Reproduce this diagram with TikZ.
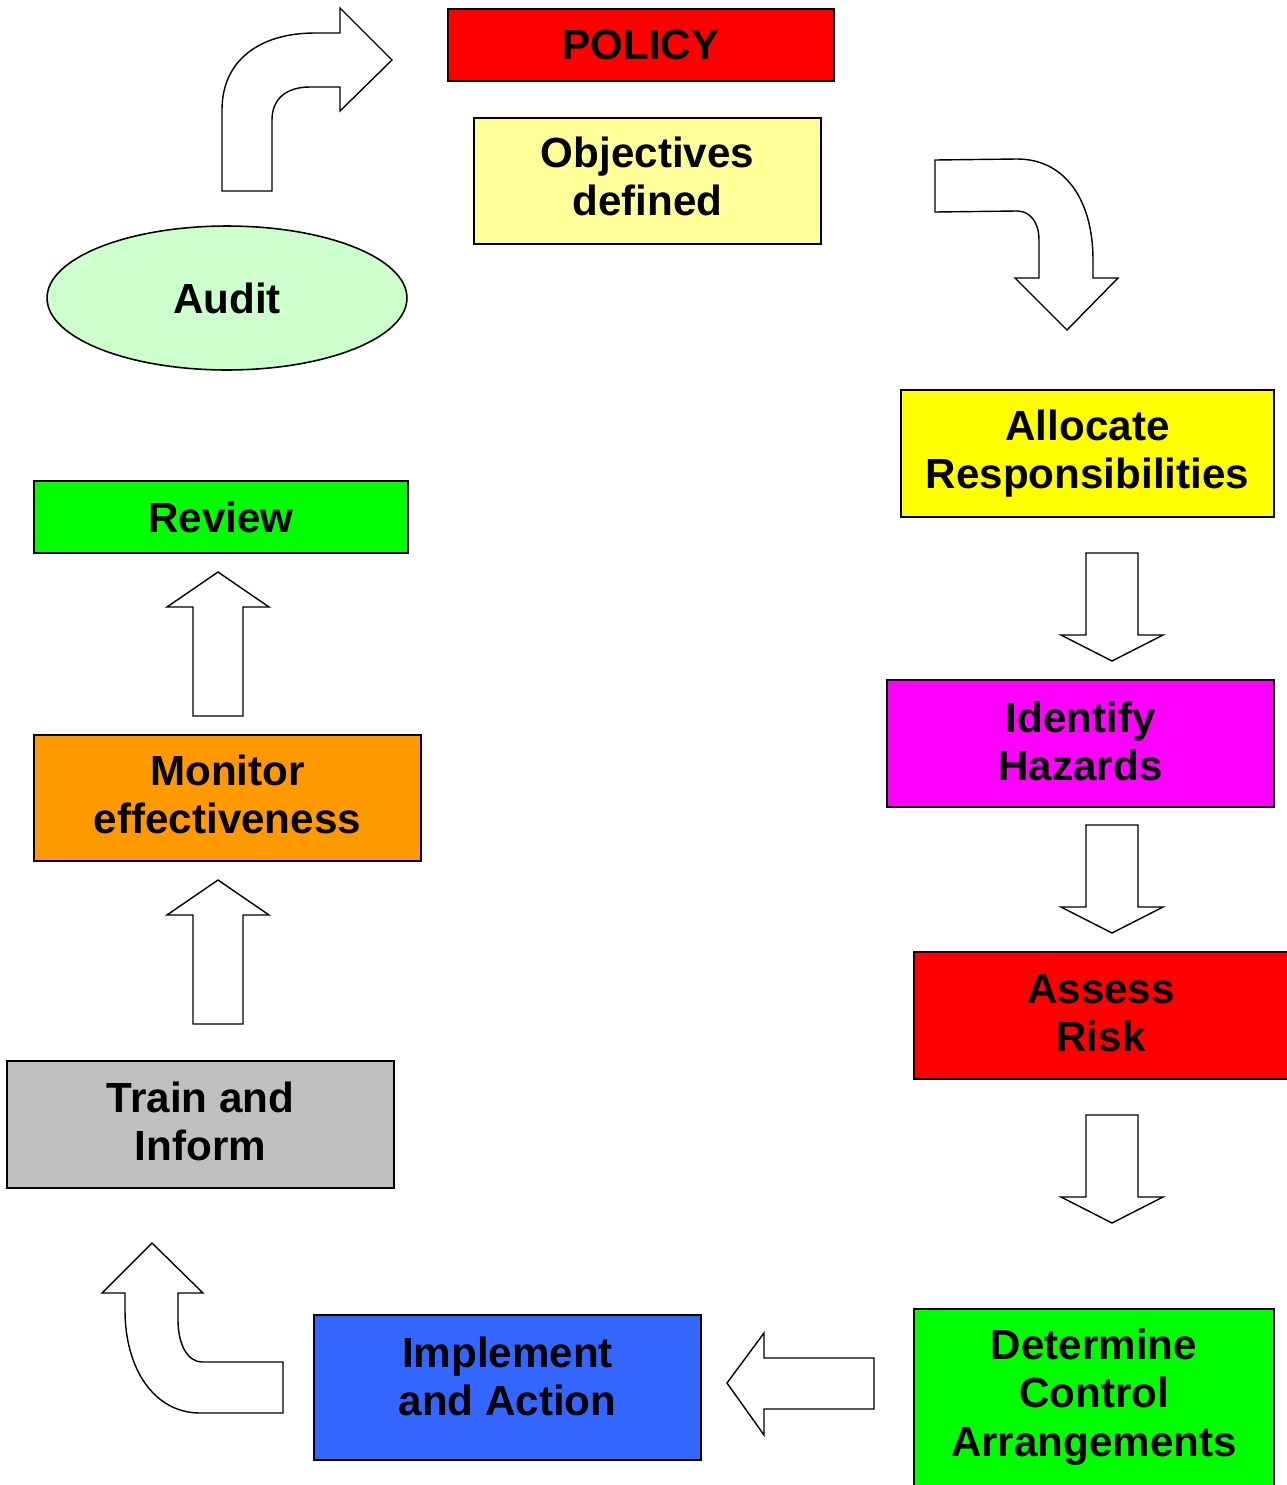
\documentclass[tikz,border=0pt]{standalone}
\usepackage{fontspec}
\setmainfont{Liberation Sans}
\usepackage{xcolor}
\usetikzlibrary{shapes,positioning,calc}
\tikzset{>=latex}

\definecolor{policyred}{HTML}{FF0000}
\definecolor{paleyellow}{HTML}{FFFF99}
\definecolor{mint}{HTML}{CCFFCC}
\definecolor{brightyellow}{HTML}{FFFF00}
\definecolor{brightgreen}{HTML}{00FF00}
\definecolor{brightmagenta}{HTML}{FF00FF}
\definecolor{brightorange}{HTML}{FF9900}
\definecolor{lightgrey}{HTML}{C0C0C0}
\definecolor{royal}{HTML}{3366FF}

\tikzset{
  box/.style={draw, line width=0.9pt, align=center, inner sep=2pt,
    font=\fontsize{24}{27.5}\selectfont\bfseries},
  blockarrow/.style={draw, line width=0.8pt, fill=white, line join=miter}
}

% straight block arrows: centre x, top (or tip) y
\newcommand{\blockdown}[2]{%
  \draw[blockarrow] (#1-26,#2) -- (#1+26,#2) -- (#1+26,#2+82) -- (#1+51,#2+82)
    -- (#1,#2+108) -- (#1-51,#2+82) -- (#1-26,#2+82) -- cycle;}
\newcommand{\blockup}[2]{%
  \draw[blockarrow] (#1,#2) -- (#1+51,#2+35) -- (#1+25,#2+35) -- (#1+25,#2+144)
    -- (#1-25,#2+144) -- (#1-25,#2+35) -- (#1-51,#2+35) -- cycle;}

\begin{document}
\begin{tikzpicture}[x=0.02cm, y=-0.02cm]
\useasboundingbox (0,0) rectangle (1286,1485);

% right hand column
\node[box, fill=policyred, minimum width=7.72cm, minimum height=1.44cm] (policy) at (641,45) {POLICY};
\node[box, fill=paleyellow, minimum width=6.94cm, minimum height=2.52cm, text depth=5.7pt] (objectives) at (647.5,181) {Objectives\\defined};
\node[box, fill=brightyellow, minimum width=7.46cm, minimum height=2.54cm] (allocate) at (1087.5,453.5) {Allocate\\Responsibilities};
\node[box, fill=brightmagenta, minimum width=7.74cm, minimum height=2.54cm, text depth=2.8pt] (identify) at (1080.5,743.5) {Identify\\Hazards};
\node[box, fill=policyred, minimum width=7.48cm, minimum height=2.54cm, text depth=2.8pt] (assess) at (1101,1015.5) {Assess\\Risk};
\node[box, fill=brightgreen, minimum width=7.2cm, minimum height=4cm, anchor=north] (determine) at (1094,1308) {};
\node[box, draw=none] (determinetext) at (1094,1397) {Determine\\Control\\Arrangements};

% left hand column
\node[box, fill=royal, minimum width=7.74cm, minimum height=2.9cm, text depth=13pt] (implement) at (507.5,1387.5) {Implement\\and Action};
\node[box, fill=lightgrey, minimum width=7.74cm, minimum height=2.54cm, text depth=4pt] (train) at (200.5,1124.5) {Train and\\Inform};
\node[box, fill=brightorange, minimum width=7.74cm, minimum height=2.52cm, text depth=4.5pt] (monitor) at (227.5,798) {Monitor\\effectiveness};
\node[box, fill=brightgreen, minimum width=7.48cm, minimum height=1.44cm] (review) at (221,517) {Review};
\node[box, ellipse, fill=mint, minimum width=7.2cm, minimum height=2.88cm] (audit) at (227,298) {Audit};

% curved block arrows
\draw[blockarrow] (935,160) -- (1017,159) .. controls (1065,159) and (1093,200) .. (1093,260)
  -- (1093,278) -- (1118,278) -- (1067,330) -- (1015,278) -- (1039,278) -- (1039,240)
  .. controls (1039,222) and (1030,211) .. (1017,211) -- (935,212) -- cycle;
\draw[blockarrow] (152,1243) -- (203,1293) -- (178,1293) -- (178,1320)
  .. controls (178,1345) and (188,1362) .. (202,1362) -- (283,1362) -- (283,1413) -- (200,1413)
  .. controls (155,1413) and (125,1370) .. (125,1310) -- (125,1293) -- (102,1293) -- cycle;
\draw[blockarrow] (222,191) -- (222,110) .. controls (222,60) and (260,33) .. (315,33)
  -- (340,33) -- (340,8) -- (392,60) -- (340,111) -- (340,87) -- (310,87)
  .. controls (285,87) and (272,100) .. (272,120) -- (272,191) -- cycle;

% straight block arrows
\blockdown{1112}{553}
\blockdown{1112}{825}
\blockdown{1112}{1115}
\draw[blockarrow] (727,1383) -- (764,1333) -- (764,1358) -- (874,1358) -- (874,1409)
  -- (764,1409) -- (764,1435) -- cycle;
\blockup{218}{880}
\blockup{218}{572}
\end{tikzpicture}
\end{document}
